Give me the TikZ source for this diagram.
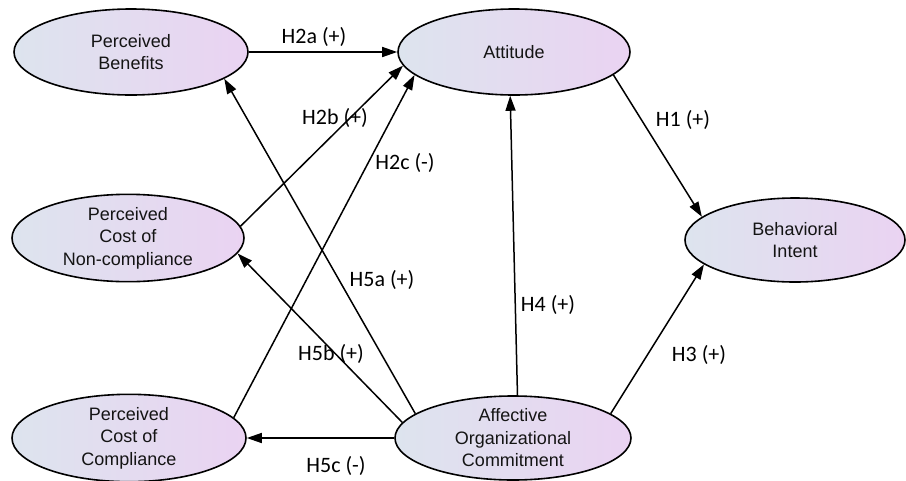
\documentclass[tikz,border=0pt]{standalone}
\usepackage{fontspec}
\setmainfont{Liberation Sans}
\newfontfamily\labfont{Carlito}
\usetikzlibrary{shapes.geometric,arrows.meta}
\definecolor{ellleft}{RGB}{221,228,238}
\definecolor{ellright}{RGB}{234,211,242}
\definecolor{txt}{RGB}{20,20,20}
\tikzset{
  construct/.style={ellipse, draw=black, line width=1.6pt, left color=ellleft, right color=ellright,
    inner sep=0pt, align=center, text=txt, font=\fontsize{18}{22.5}\selectfont},
  path/.style={draw=black, line width=1.5pt, -{Triangle[length=15pt,width=10pt]}},
  hyp/.style={font=\labfont\fontsize{22}{24}\selectfont, text=black, inner sep=0pt}
}
\begin{document}
\begin{tikzpicture}[x=1pt,y=-1pt]
\useasboundingbox (0,0) rectangle (906,480);
\fill[white] (0,0) rectangle (906,480);
% constructs
\node[construct, minimum width=234pt, minimum height=86pt] (PB) at (131,52) {Perceived\\Benefits};
\node[construct, minimum width=232pt, minimum height=86pt] (ATT) at (514,52) {Attitude};
\node[construct, minimum width=232pt, minimum height=86pt] (PCNC) at (128,238) {Perceived\\Cost of\\Non-compliance};
\node[construct, minimum width=220pt, minimum height=84pt] (BI) at (795,240) {Behavioral\\Intent};
\node[construct, minimum width=234pt, minimum height=84pt] (PCC) at (129,438) {Perceived\\Cost of\\Compliance};
\node[construct, minimum width=236pt, minimum height=84pt] (AOC) at (513,438) {Affective\\Organizational\\Commitment};
% paths
\draw[path] (PB) -- (ATT);
\draw[path] (PCNC.6.6) -- (ATT.187.1);
\draw[path] (PCC.11.7) -- (ATT.193);
\draw[path] (AOC.166.1) -- (PB.344.6);
\draw[path] (AOC.172.7) -- (PCNC.352.2);
\draw[path] (AOC) -- (PCC);
\draw[path] (AOC.84.7) -- (ATT.265.3);
\draw[path] (ATT.347.2) -- (BI.166.4);
\draw[path] (AOC.14.5) -- (BI.195.5);
% labels
\node[hyp] (l2a) at (314,37) {H2a (+)};
\node[hyp] (l2b) at (335,118) {H2b (+)};
\node[hyp] (l2c) at (405,163) {H2c (-)};
\node[hyp] (l5a) at (382,280) {H5a (+)};
\node[hyp] (l5b) at (331,354) {H5b (+)};
\node[hyp] (l5c) at (336,466) {H5c (-)};
\node[hyp] (l4) at (548,305) {H4 (+)};
\node[hyp] (l1) at (683,120) {H1 (+)};
\node[hyp] (l3) at (699,355) {H3 (+)};
\end{tikzpicture}
\end{document}
